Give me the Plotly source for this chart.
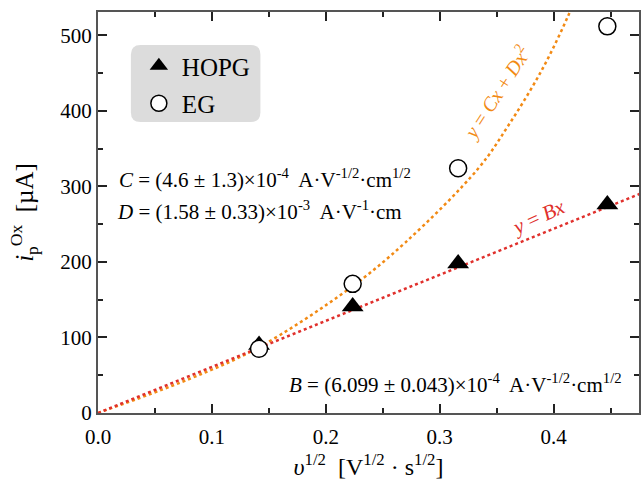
import plotly.graph_objects as go

# ---- data ----
x_scan = [0.1414, 0.2236, 0.3162, 0.4472]          # v^1/2  [V^1/2 s^1/2]
hopg_ip = [90, 141, 198, 276]                       # µA
eg_ip = [85, 171, 324, 512]                         # µA

# linear fit y = Bx  (B in µA per V^1/2 s^1/2)
B_fit = 609.9
x_line = [0.0, 0.48]

# quadratic fit curve y = Cx + Dx^2
curve_x = [0.0, 0.08, 0.14, 0.22, 0.27, 0.334, 0.36, 0.39, 0.414, 0.43]
curve_y = [0.0, 45, 86, 164, 226, 324, 380, 455, 530, 590]

x_ticks = [0.0, 0.1, 0.2, 0.3, 0.4]
x_tick_text = ["0.0", "0.1", "0.2", "0.3", "0.4"]
y_ticks = [0, 100, 200, 300, 400, 500]

ORANGE = "#f28a14"
RED = "#e0302c"
FONT = "Liberation Serif"

fig = go.Figure()

fig.add_trace(go.Scatter(
    x=curve_x, y=curve_y, mode="lines", line=dict(color=ORANGE, width=2.5, dash="dot", shape="spline"),
    showlegend=False, hoverinfo="skip"))
fig.add_trace(go.Scatter(
    x=x_line, y=[B_fit * v for v in x_line], mode="lines",
    line=dict(color=RED, width=2.5, dash="dot"), showlegend=False, hoverinfo="skip"))

fig.add_trace(go.Scatter(
    x=x_scan, y=hopg_ip, mode="markers", name="HOPG", legendgroup="a",
    marker=dict(symbol="triangle-up", size=19, color="black", line=dict(width=0))))
fig.add_trace(go.Scatter(
    x=x_scan, y=eg_ip, mode="markers", name="EG", legendgroup="b",
    marker=dict(symbol="circle", size=17, color="white", line=dict(width=1.5, color="black"))))

axis_common = dict(
    ticks="inside", ticklen=9, tickwidth=1.5, tickcolor="#222",
    showline=True, linecolor="#555", linewidth=2, mirror="ticks",
    showgrid=False, zeroline=False,
    tickfont=dict(family=FONT, size=21, color="black"),
)

fig.update_xaxes(
    range=[0, 0.475], tickvals=x_ticks, ticktext=x_tick_text, ticklabelstandoff=4,
    minor=dict(dtick=0.05, ticks="inside", ticklen=5, tickwidth=1.5, tickcolor="#222"),
    title=dict(text="<i>υ</i><sup>1/2</sup>  [V<sup>1/2</sup> · s<sup>1/2</sup>]",
               font=dict(family=FONT, size=24, color="black"), standoff=10),
    **axis_common)
fig.update_yaxes(
    range=[0, 531], tickvals=y_ticks,
    minor=dict(dtick=50, ticks="inside", ticklen=5, tickwidth=1.5, tickcolor="#222"),
    title=dict(text="<i>i</i><sub>p</sub><sup>Ox</sup>  [µA]",
               font=dict(family=FONT, size=25, color="black"), standoff=20),
    **axis_common)

# rounded legend background
x0, x1 = (131 - 98) / 543, (261 - 98) / 543
y0, y1 = (413 - 122) / 401, (413 - 45) / 401
r = 0.018
ry = r * 543 / 401
path = (f"M {x0 + r},{y0} L {x1 - r},{y0} Q {x1},{y0} {x1},{y0 + ry} "
        f"L {x1},{y1 - ry} Q {x1},{y1} {x1 - r},{y1} L {x0 + r},{y1} "
        f"Q {x0},{y1} {x0},{y1 - ry} L {x0},{y0 + ry} Q {x0},{y0} {x0 + r},{y0} Z")
fig.add_shape(type="path", path=path, xref="paper", yref="paper",
              fillcolor="#dcdcdc", line=dict(width=0), layer="below")

ann_font = dict(family=FONT, size=21, color="black")
fig.add_annotation(x=(117 - 98) / 543, y=(413 - 178) / 401, xref="paper", yref="paper",
                   xanchor="left", yanchor="middle", showarrow=False, font=ann_font,
                   text="<i>C</i> = (4.6 ± 1.3)×10<sup>-4</sup>  A·V<sup>-1/2</sup>·cm<sup>1/2</sup>")
fig.add_annotation(x=(115 - 98) / 543, y=(413 - 210) / 401, xref="paper", yref="paper",
                   xanchor="left", yanchor="middle", showarrow=False, font=ann_font,
                   text="<i>D</i> = (1.58 ± 0.33)×10<sup>-3</sup>  A·V<sup>-1</sup>·cm")
fig.add_annotation(x=(626 - 98) / 543, y=(413 - 383) / 401, xref="paper", yref="paper",
                   xanchor="right", yanchor="middle", showarrow=False, font=ann_font,
                   text="<i>B</i> = (6.099 ± 0.043)×10<sup>-4</sup>  A·V<sup>-1/2</sup>·cm<sup>1/2</sup>")
fig.add_annotation(x=(498 - 98) / 543, y=(413 - 93) / 401, xref="paper", yref="paper",
                   xanchor="center", yanchor="middle", showarrow=False, textangle=-57,
                   font=dict(family=FONT, size=20, color=ORANGE),
                   text="<i>y</i> = <i>Cx</i> + <i>Dx</i><sup>2</sup>")
fig.add_annotation(x=(540 - 98) / 543, y=(413 - 217) / 401, xref="paper", yref="paper",
                   xanchor="center", yanchor="middle", showarrow=False, textangle=-25,
                   font=dict(family=FONT, size=21, color=RED),
                   text="<i>y</i> = <i>Bx</i>")

fig.update_layout(
    width=641, height=484,
    margin=dict(l=98, r=0, t=12, b=71),
    paper_bgcolor="white", plot_bgcolor="white",
    font=dict(family=FONT, size=20, color="black"),
    legend=dict(x=(136 - 98) / 543, y=(413 - 43) / 401, xanchor="left", yanchor="top",
                bgcolor="rgba(0,0,0,0)", font=dict(family=FONT, size=25, color="black"),
                itemsizing="trace", itemwidth=36, tracegroupgap=2),
    showlegend=True,
)

fig.write_html("out.html")
